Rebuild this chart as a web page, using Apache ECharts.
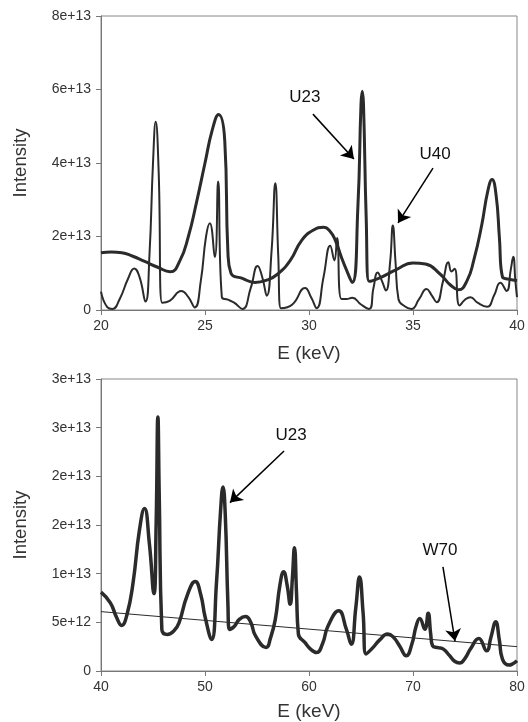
<!DOCTYPE html>
<html>
<head>
<meta charset="utf-8">
<script src="https://cdn.jsdelivr.net/npm/echarts@6/dist/echarts.min.js"></script>
<style>
html, body { margin: 0; padding: 0; background: #fff; }
#main { width: 528px; height: 722px; }
</style>
</head>
<body>
<div id="main"></div>
<script>
// top panel, 20-40 keV (intensity in units of 1e13)
var topThickE = [20.0, 20.5, 21.0, 21.5, 22.1, 22.7, 23.33, 23.8, 24.2, 24.6, 25.0, 25.35, 25.65, 25.95, 26.1, 26.25, 26.8, 27.4, 28.0, 28.5, 29.1, 29.64, 30.2, 30.7, 31.0, 31.27, 31.55, 31.75, 32.08, 32.35, 32.5, 32.56, 32.62, 32.75, 32.89, 33.46, 34.2, 35.0, 35.6, 36.3, 36.8, 37.19, 37.6, 37.92, 38.3, 38.6, 38.8, 39.0, 39.15, 39.3, 39.6, 40.0];
var topThickI = [1.56, 1.58, 1.56, 1.47, 1.32, 1.17, 1.04, 1.35, 2.0, 2.95, 4.0, 4.9, 5.32, 4.6, 1.6, 1.0, 0.86, 0.75, 0.82, 0.98, 1.35, 1.89, 2.17, 2.25, 2.15, 1.89, 1.45, 1.16, 0.75, 2.8, 5.6, 5.95, 5.6, 2.5, 0.78, 0.89, 1.1, 1.28, 1.25, 0.98, 0.68, 0.55, 0.8, 1.35, 2.3, 3.25, 3.55, 3.1, 2.0, 0.9, 0.84, 0.8];

var topThinE = [20.0, 20.3, 20.55, 20.9, 21.3, 21.6, 21.85, 22.14, 22.33, 22.5, 22.63, 22.77, 22.94, 23.3, 23.86, 24.2, 24.51, 24.8, 25.05, 25.23, 25.47, 25.63, 25.81, 26.1, 26.4, 26.8, 27.2, 27.53, 27.75, 27.97, 28.2, 28.38, 28.52, 28.65, 29.2, 29.81, 30.1, 30.37, 30.7, 31.02, 31.22, 31.35, 31.56, 31.8, 32.08, 32.5, 32.89, 33.1, 33.3, 33.5, 33.7, 33.9, 34.03, 34.16, 34.3, 34.6, 34.92, 35.3, 35.65, 35.9, 36.14, 36.45, 36.7, 36.85, 37.0, 37.24, 37.5, 37.76, 38.1, 38.57, 38.9, 39.2, 39.5, 39.7, 39.82, 39.92, 40.0];
var topThinI = [0.5, 0.08, 0.03, 0.3, 0.85, 1.13, 0.9, 0.23, 1.5, 4.0, 5.12, 3.8, 0.2, 0.25, 0.52, 0.35, 0.07, 0.8, 2.0, 2.36, 1.44, 3.5, 0.35, 0.28, 0.2, 0.03, 0.6, 1.2, 0.9, 0.39, 1.6, 3.45, 1.5, 0.05, 0.15, 0.6, 0.35, 0.05, 0.9, 1.75, 1.35, 1.96, 0.3, 0.3, 0.33, 0.15, 0.03, 0.6, 1.02, 0.8, 0.53, 1.3, 2.3, 1.3, 0.3, 0.1, 0.03, 0.3, 0.57, 0.4, 0.21, 0.8, 1.3, 1.05, 1.12, 0.12, 0.28, 0.35, 0.2, 0.09, 0.4, 0.74, 0.52, 1.1, 1.45, 0.8, 0.35];

// bottom panel, 40-80 keV (intensity in units of 1e12)
var botE = [40.0, 40.9, 41.5, 41.98, 42.5, 43.08, 43.7, 44.18, 44.65, 45.09, 45.3, 45.47, 45.6, 45.85, 46.38, 47.0, 47.5, 48.3, 49.06, 49.6, 50.0, 50.63, 51.1, 51.5, 51.73, 51.95, 52.2, 52.36, 52.83, 53.3, 53.9, 54.4, 54.86, 55.87, 56.3, 56.76, 57.2, 57.56, 57.9, 58.19, 58.4, 58.6, 58.8, 58.98, 59.6, 60.2, 60.73, 61.3, 61.84, 62.86, 63.59, 64.06, 64.5, 64.86, 65.2, 65.49, 66.1, 66.8, 67.56, 68.1, 68.7, 69.35, 69.9, 70.3, 70.65, 71.14, 71.46, 71.7, 71.88, 72.4, 72.92, 73.5, 74.0, 74.48, 75.0, 75.52, 76.33, 77.08, 77.5, 77.95, 78.3, 78.6, 79.25, 79.6, 80.0];
var botI = [8.1, 7.0, 5.5, 4.68, 5.8, 9.04, 14.5, 16.7, 13.1, 7.95, 15.0, 26.1, 18.0, 4.27, 3.75, 4.1, 4.95, 7.8, 9.2, 7.8, 5.6, 3.24, 9.0, 16.5, 18.9, 16.0, 7.0, 4.27, 4.6, 5.3, 5.6, 5.0, 3.6, 2.42, 3.4, 5.3, 8.8, 10.2, 8.8, 6.86, 9.5, 12.66, 8.0, 3.8, 2.94, 2.2, 1.9, 2.8, 4.64, 6.18, 4.3, 2.76, 6.5, 9.66, 6.0, 1.74, 2.35, 3.2, 3.8, 3.5, 2.6, 1.57, 2.8, 4.6, 5.4, 4.3, 5.94, 3.8, 2.6, 2.4, 2.25, 1.6, 1.0, 0.82, 1.3, 2.25, 3.34, 2.08, 3.5, 5.05, 3.2, 1.23, 0.61, 0.75, 1.06];
var baseE = [40, 80];
var baseI = [6.1, 2.5];

var topTicks = [20, 40, 5, 0, 8e13, 2e13];
var botTicks = [40, 80, 10, 0, 3e13, 5e12];

function pairs(xs, ys, scale) {
    return xs.map(function (x, i) { return [x, ys[i] * scale]; });
}

function expLabel(v) {
    if (v === 0) return '0';
    return Number(v).toExponential(0);
}

var font = "'Liberation Sans', Arial, sans-serif";
var ink = '#2b2b2b';

function xAxisFor(idx, t, gap) {
    return {
        gridIndex: idx, type: 'value', min: t[0], max: t[1], interval: t[2],
        name: 'E (keV)', nameLocation: 'middle', nameGap: gap,
        nameTextStyle: { fontFamily: font, fontSize: 19, color: '#333' },
        axisLine: { lineStyle: { color: '#777' } },
        axisTick: { length: 5, lineStyle: { color: '#777' } },
        axisLabel: { fontFamily: font, fontSize: 14, color: '#333', margin: 9 },
        splitLine: { show: false }
    };
}

function yAxisFor(idx, t) {
    return {
        gridIndex: idx, type: 'value', min: t[3], max: t[4], interval: t[5],
        name: 'Intensity', nameLocation: 'middle', nameGap: 71, nameRotate: 90,
        nameTextStyle: { fontFamily: font, fontSize: 18.5, color: '#333' },
        axisLine: { show: true, lineStyle: { color: '#777' } },
        axisTick: { show: true, length: 5, lineStyle: { color: '#777' } },
        axisLabel: { fontFamily: font, fontSize: 14, color: '#333', margin: 10, formatter: expLabel },
        splitLine: { show: false }
    };
}

function arrow(from, to) {
    return [{ coord: from }, { coord: to }];
}

function tag(name, at) {
    return { name: name, coord: at };
}

var markLineStyle = {
    silent: true, symbol: ['none', 'arrow'], symbolSize: 12,
    lineStyle: { color: '#000', width: 1.5, type: 'solid' },
    label: { show: false }, animation: false
};

function markPointFor(items) {
    return {
        silent: true, symbol: 'rect', symbolSize: 1,
        itemStyle: { color: 'rgba(0,0,0,0)' },
        label: { show: true, position: 'inside', formatter: '{b}', fontFamily: font, fontSize: 17, color: '#111' },
        data: items
    };
}

var option = {
    animation: false,
    backgroundColor: '#fff',
    grid: [
        { left: 101, top: 16, width: 416, height: 294, show: true, borderColor: '#888', borderWidth: 1 },
        { left: 101, top: 379, width: 416, height: 293, show: true, borderColor: '#888', borderWidth: 1 }
    ],
    xAxis: [xAxisFor(0, topTicks, 34), xAxisFor(1, botTicks, 31)],
    yAxis: [yAxisFor(0, topTicks), yAxisFor(1, botTicks)],
    series: [
        {
            type: 'line', xAxisIndex: 0, yAxisIndex: 0, showSymbol: false,
            smooth: 0.5,
            lineStyle: { color: ink, width: 2 },
            data: pairs(topThinE, topThinI, 1e13)
        },
        {
            type: 'line', xAxisIndex: 0, yAxisIndex: 0, showSymbol: false,
            smooth: 0.5,
            lineStyle: { color: ink, width: 3 },
            data: pairs(topThickE, topThickI, 1e13),
            markLine: Object.assign({}, markLineStyle, {
                data: [
                    arrow([30.19, 5.33e13], [32.16, 4.11e13]),
                    arrow([35.96, 3.86e13], [34.28, 2.37e13])
                ]
            }),
            markPoint: markPointFor([
                tag('U23', [29.8, 5.8e13]),
                tag('U40', [36.06, 4.24e13])
            ])
        },
        {
            type: 'line', xAxisIndex: 1, yAxisIndex: 1, showSymbol: false,
            lineStyle: { color: ink, width: 1 },
            data: pairs(baseE, baseI, 1e12)
        },
        {
            type: 'line', xAxisIndex: 1, yAxisIndex: 1, showSymbol: false,
            smooth: 0.5,
            lineStyle: { color: ink, width: 3.5 },
            data: pairs(botE, botI, 1e12),
            markLine: Object.assign({}, markLineStyle, {
                data: [
                    arrow([57.6, 22.6e12], [52.4, 17.3e12]),
                    arrow([72.88, 10.7e12], [74.04, 3.07e12])
                ]
            }),
            markPoint: markPointFor([
                tag('U23', [58.27, 24.2e12]),
                tag('W70', [72.6, 12.4e12])
            ])
        }
    ]
};

echarts.init(document.getElementById('main')).setOption(option);
</script>
</body>
</html>
